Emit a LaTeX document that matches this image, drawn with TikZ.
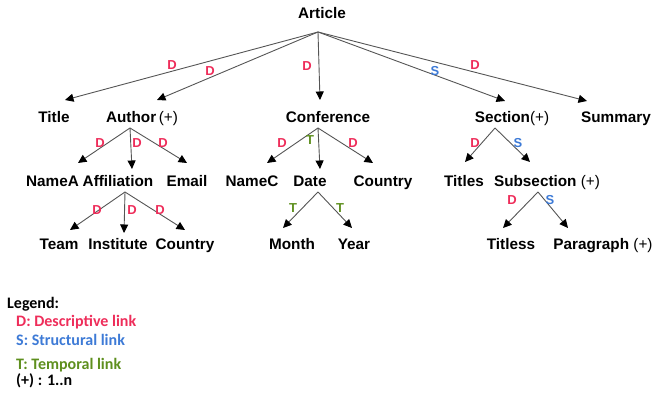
\documentclass[tikz,border=0pt]{standalone}
\usepackage{fontspec}
\setmainfont{Liberation Sans}
\newfontfamily\legfont{Carlito}
\usetikzlibrary{arrows.meta}
\definecolor{dred}{HTML}{EE2D5A}
\definecolor{sblue}{HTML}{3D7AD6}
\definecolor{tgreen}{HTML}{5E8F1E}
\definecolor{lnk}{HTML}{555555}
\begin{document}
\begin{tikzpicture}[x=1pt,y=1pt,
  nd/.style={anchor=base, inner sep=0pt, font=\fontsize{15.3}{17}\selectfont\bfseries},
  link/.style={draw=lnk, line width=0.9pt, -{Triangle[length=8.5pt,width=8pt,color=black]}},
  lab/.style={inner sep=0pt, font=\fontsize{13}{15}\selectfont\bfseries},
  dl/.style={lab, text=dred}, sl/.style={lab, text=sblue}, tl/.style={lab, text=tgreen},
  leg/.style={anchor=west, inner sep=0pt, font=\legfont\fontsize{16}{18}\selectfont\bfseries}]
\useasboundingbox (0,0) rectangle (656,401);
% nodes
\node[nd] (article) at (322,382.5) {Article};
\node[nd] (title) at (54,278) {Title};
\node[nd] (author) at (142,278) {Author\,{\mdseries(+)}};
\node[nd] (conference) at (328,278) {Conference};
\node[nd] (section) at (512,278) {Section{\mdseries(+)}};
\node[nd] (summary) at (616,278) {Summary};
\node[nd] (nameA) at (52.5,214) {NameA};
\node[nd] (affil) at (118,214) {Affiliation};
\node[nd] (email) at (187,214) {Email};
\node[nd] (nameC) at (252,214) {NameC};
\node[nd] (date) at (310,214) {Date};
\node[nd] (countryC) at (383,214) {Country};
\node[nd] (titles) at (464,214) {Titles};
\node[nd] (subsection) at (547,214) {Subsection {\mdseries(+)}};
\node[nd] (team) at (59,151) {Team};
\node[nd] (institute) at (118,151) {Institute};
\node[nd] (countryA) at (185,151) {Country};
\node[nd] (month) at (292,151) {Month};
\node[nd] (year) at (354,151) {Year};
\node[nd] (titless) at (511,151) {Titless};
\node[nd] (paragraph) at (603,151) {Paragraph {\mdseries(+)}};
% origins
\coordinate (art-o) at ([shift={(-4,-13.5)}]article.base);
\coordinate (aut-o) at ([shift={(-12,-5)}]author.base);
\coordinate (con-o) at ([shift={(-10,-5)}]conference.base);
\coordinate (sec-o) at ([shift={(-17,-5)}]section.base);
\coordinate (aff-o) at ([shift={(7,-5)}]affil.base);
\coordinate (dat-o) at ([shift={(8,-5)}]date.base);
\coordinate (sub-o) at ([shift={(-9,-5)}]subsection.base);
% links
\draw[link] (art-o) -- ([shift={(11,23)}]title.base);
\draw[link] (art-o) -- ([shift={(15,23)}]author.base);
\draw[link] (art-o) -- ([shift={(-8,23)}]conference.base);
\draw[link] (art-o) -- ([shift={(-7,22)}]section.base);
\draw[link] (art-o) -- ([shift={(-29,22)}]summary.base);
\draw[link] (aut-o) -- ([shift={(25.5,24)}]nameA.base);
\draw[link] (aut-o) -- ([shift={(14,18)}]affil.base);
\draw[link] (aut-o) -- ([shift={(0,24)}]email.base);
\draw[link] (aff-o) -- ([shift={(11,20)}]team.base);
\draw[link] (aff-o) -- ([shift={(6,17)}]institute.base);
\draw[link] (aff-o) -- ([shift={(0,20)}]countryA.base);
\draw[link] (con-o) -- ([shift={(15,24)}]nameC.base);
\draw[link] (con-o) -- ([shift={(10,18)}]date.base);
\draw[link] (con-o) -- ([shift={(-10,24)}]countryC.base);
\draw[link] (dat-o) -- ([shift={(-9,22)}]month.base);
\draw[link] (dat-o) -- ([shift={(-2,22)}]year.base);
\draw[link] (sec-o) -- ([shift={(1,25)}]titles.base);
\draw[link] (sec-o) -- ([shift={(-17,25)}]subsection.base);
\draw[link] (sub-o) -- ([shift={(-8,22)}]titless.base);
\draw[link] (sub-o) -- ([shift={(-35,22)}]paragraph.base);
% link labels
\node[dl] (l1) at (172,336) {D};
\node[dl] (l2) at (210,330) {D};
\node[dl] (l3) at (307,335) {D};
\node[sl] (l4) at (435,330) {S};
\node[dl] (l5) at (475,336) {D};
\node[dl] (l6) at (100,258) {D};
\node[dl] (l7) at (137,258) {D};
\node[dl] (l8) at (163,258) {D};
\node[dl] (l9) at (97,191) {D};
\node[dl] (l10) at (132,191) {D};
\node[dl] (l11) at (160,191) {D};
\node[dl] (l12) at (282,258) {D};
\node[tl] (l13) at (310,261) {T};
\node[dl] (l14) at (353,258) {D};
\node[tl] (l15) at (293,193) {T};
\node[tl] (l16) at (340,193) {T};
\node[dl] (l17) at (475,258) {D};
\node[sl] (l18) at (518,258) {S};
\node[dl] (l19) at (512,201) {D};
\node[sl] (l20) at (550,201) {S};
% legend
\node[leg] (legend) at (7,96.5) {Legend:};
\node[leg, text=dred] (legD) at (16,79) {D: Descriptive link};
\node[leg, text=sblue] (legS) at (16,61) {S: Structural link};
\node[leg, text=tgreen] (legT) at (16,36) {T: Temporal link};
\node[leg] (legP) at (16,20) {(+) : 1..n};
\end{tikzpicture}
\end{document}
